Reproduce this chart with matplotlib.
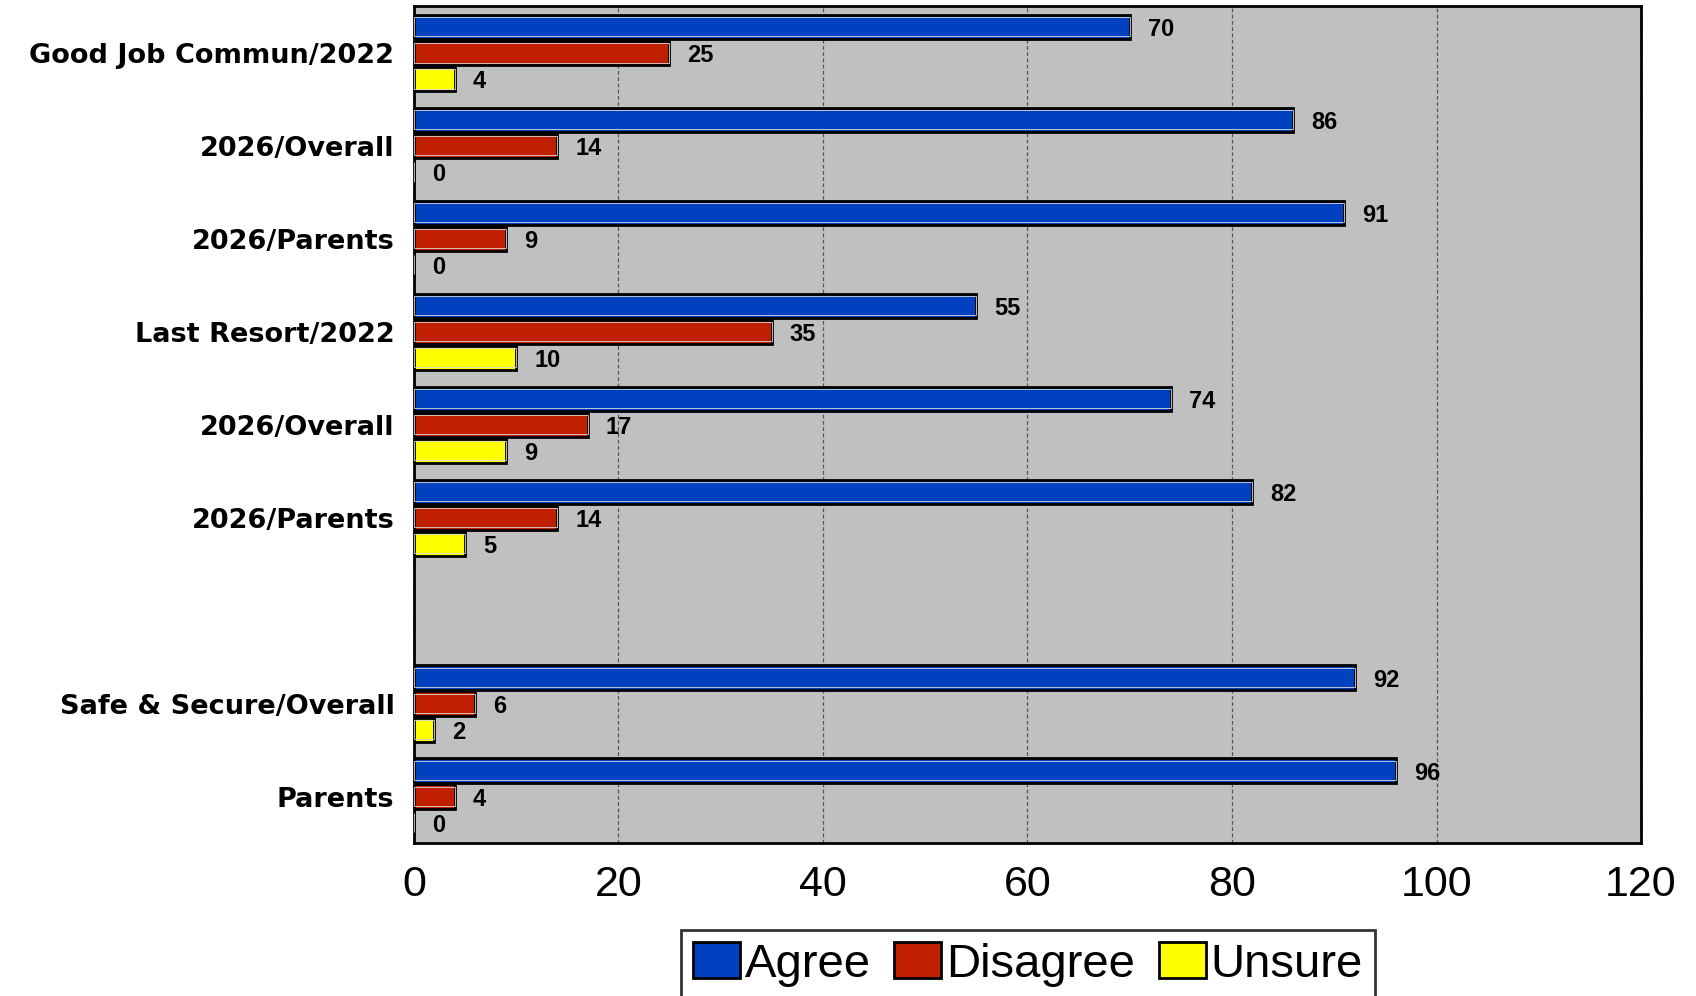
import matplotlib
matplotlib.use("Agg")
import matplotlib.pyplot as plt
import numpy as np
from matplotlib.patches import Patch

categories = ["Good Job Commun/2022", "2026/Overall", "2026/Parents", "Last Resort/2022",
              "2026/Overall", "2026/Parents", "", "Safe & Secure/Overall", "Parents"]
agree = [70, 86, 91, 55, 74, 82, None, 92, 96]
disagree = [25, 14, 9, 35, 17, 14, None, 6, 4]
unsure = [4, 0, 0, 10, 9, 5, None, 2, 0]
series_names = ["Agree", "Disagree", "Unsure"]
colors = ["#0041BF", "#C02000", "#FFFF00"]
xticks = [0, 20, 40, 60, 80, 100, 120]

plt.rcParams['font.family'] = ['Liberation Sans', 'DejaVu Sans']

fig = plt.figure(figsize=(16.96, 9.96), dpi=100)
ax = fig.add_axes([0.244, 0.1536, 0.7236, 0.84])
ax.set_facecolor("#C0C0C0")

bar_h = 0.26
offsets = [-0.28, 0.0, 0.28]
for vals, col, off in zip([agree, disagree, unsure], colors, offsets):
    ys = [i + off for i, v in enumerate(vals) if v is not None]
    xs = [v for v in vals if v is not None]
    ax.barh(ys, xs, height=bar_h, color=col, edgecolor="black", linewidth=2, zorder=3)
    ax.barh(ys, xs, height=bar_h * 0.8, color="none", edgecolor="#d8d8d8", linewidth=0.6, zorder=3)
    for y, x in zip(ys, xs):
        ax.annotate(str(x), (x, y), xytext=(13, 0), textcoords="offset points",
                    ha="left", va="center_baseline", fontsize=17, fontweight="bold", zorder=4)

ax.set_xlim(0, 120)
ax.set_ylim(8.5, -0.5)
ax.set_xticks(xticks)
ax.set_xticklabels([str(t) for t in xticks], fontsize=31)
ax.set_yticks(range(len(categories)))
ax.set_yticklabels(categories, fontsize=19.5, fontweight="bold", family="DejaVu Sans")
ax.tick_params(axis="both", length=0)
ax.tick_params(axis="x", pad=16)
ax.tick_params(axis="y", pad=14)
ax.xaxis.grid(True, linestyle=(0, (3, 2)), color="#555555", linewidth=0.9, zorder=1)
ax.set_axisbelow(True)
for s in ax.spines.values():
    s.set_linewidth(2)
    s.set_color("black")

handles = [Patch(facecolor=c, edgecolor="black", linewidth=2) for c in colors]
leg = fig.legend(handles, series_names, loc="upper center", bbox_to_anchor=(0.606, 0.066),
                 ncol=3, fontsize=34, frameon=True, fancybox=False, edgecolor="black",
                 handlelength=1.0, handleheight=0.8, handletextpad=0.1, columnspacing=0.5,
                 borderpad=0.25, borderaxespad=0)
leg.get_frame().set_linewidth(2)

fig.savefig("out.png", dpi=100)
